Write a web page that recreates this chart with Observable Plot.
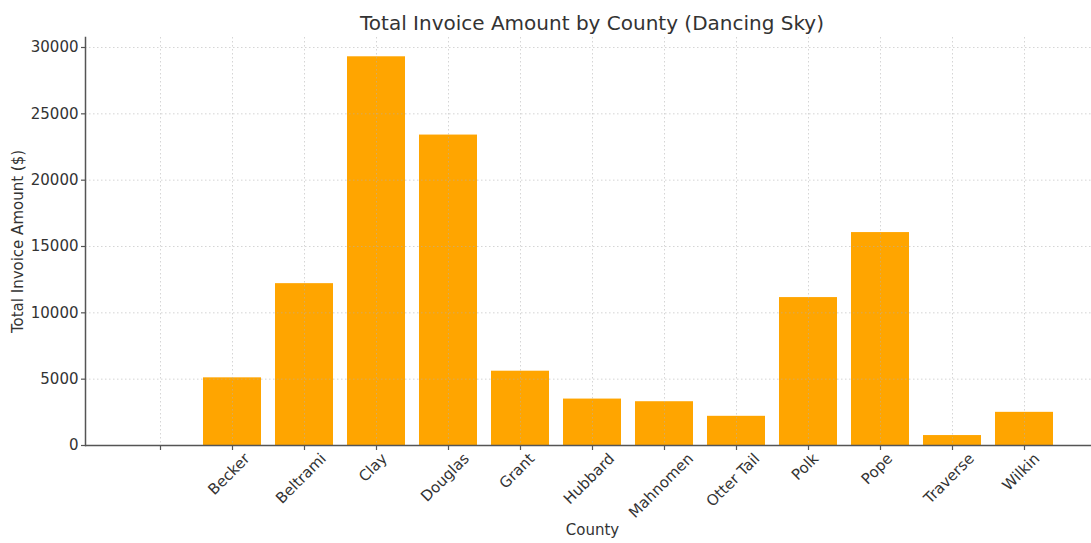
<!DOCTYPE html>
<html><head><meta charset="utf-8">
<script src="https://cdn.jsdelivr.net/npm/d3@7"></script>
<script src="https://cdn.jsdelivr.net/npm/@observablehq/plot@0.6"></script>
<style>
body{margin:0;background:#fff;font-family:"DejaVu Sans",sans-serif;}
#title{height:34px;box-sizing:border-box;padding-top:13px;padding-left:93px;width:1091px;text-align:center;font-size:20px;line-height:20px;color:#333;white-space:nowrap;}
</style></head><body>
<div style="width:1091px">
<div id="title">Total Invoice Amount by County (Dancing Sky)</div>
<div id="chart"></div>
</div>
<script>
const titleText = "Total Invoice Amount by County (Dancing Sky)";
const xLabel = "County";
const yLabel = "Total Invoice Amount ($)";
const counties = ["", "Becker", "Beltrami", "Clay", "Douglas", "Grant", "Hubbard", "Mahnomen", "Otter Tail", "Polk", "Pope", "Traverse", "Wilkin"];
const amounts = [null, 5100, 12200, 29300, 23400, 5600, 3500, 3300, 2200, 11150, 16050, 750, 2500];
const yTicks = [0, 5000, 10000, 15000, 20000, 25000, 30000];

document.getElementById("title").textContent = titleText;
const data = counties.map((c, i) => ({county: c, amount: amounts[i]})).filter(d => d.amount != null);

const fontSize = 15;
const ctx = document.createElement("canvas").getContext("2d");
ctx.font = `${fontSize}px "DejaVu Sans"`;
const labelMarks = counties.filter(c => c !== "").map(c => {
  const w = ctx.measureText(c).width;
  return Plot.text([c], {x: d => d, text: d => d, frameAnchor: "bottom", rotate: -45, textAnchor: "end", dx: w * 0.354, dy: 14, fill: "#333"});
});

const gridStyle = {stroke: "#b0b0b0", strokeOpacity: 0.6, strokeWidth: 0.9, strokeDasharray: "1.5,2.5"};

const chart = Plot.plot({
  width: 1091, height: 509,
  marginTop: 3, marginBottom: 98, marginLeft: 85, marginRight: 0,
  style: {fontFamily: "'DejaVu Sans', sans-serif", fontSize: `${fontSize}px`, color: "#333", background: "#fff"},
  x: {domain: counties, paddingInner: 0.2, paddingOuter: 0.585, align: 0.55},
  y: {domain: [0, 30754]},
  marks: [
    Plot.barY(data, {x: "county", y: "amount", fill: "#FFA500"}),
    Plot.gridX(counties, gridStyle),
    Plot.gridY(yTicks, gridStyle),
    Plot.axisX(counties, {tickSize: 5, tickFormat: () => "", label: null, stroke: "#555", strokeWidth: 1.2}),
    Plot.axisY(yTicks, {tickSize: 4, tickPadding: 3, tickFormat: d3.format("d"), label: null, stroke: "#555", strokeWidth: 1.2, fill: "#333"}),
    Plot.frame({anchor: "left", stroke: "#555", strokeWidth: 1.5}),
    Plot.ruleY([0], {stroke: "#555", strokeWidth: 1.5}),
    ...labelMarks,
    Plot.text([yLabel], {text: d => d, frameAnchor: "left", textAnchor: "middle", rotate: -90, dx: -67, fill: "#333"}),
    Plot.text([xLabel], {text: d => d, frameAnchor: "bottom", dx: 4, dy: 89, fill: "#333"})
  ]
});
document.getElementById("chart").appendChild(chart);
</script>
</body></html>
